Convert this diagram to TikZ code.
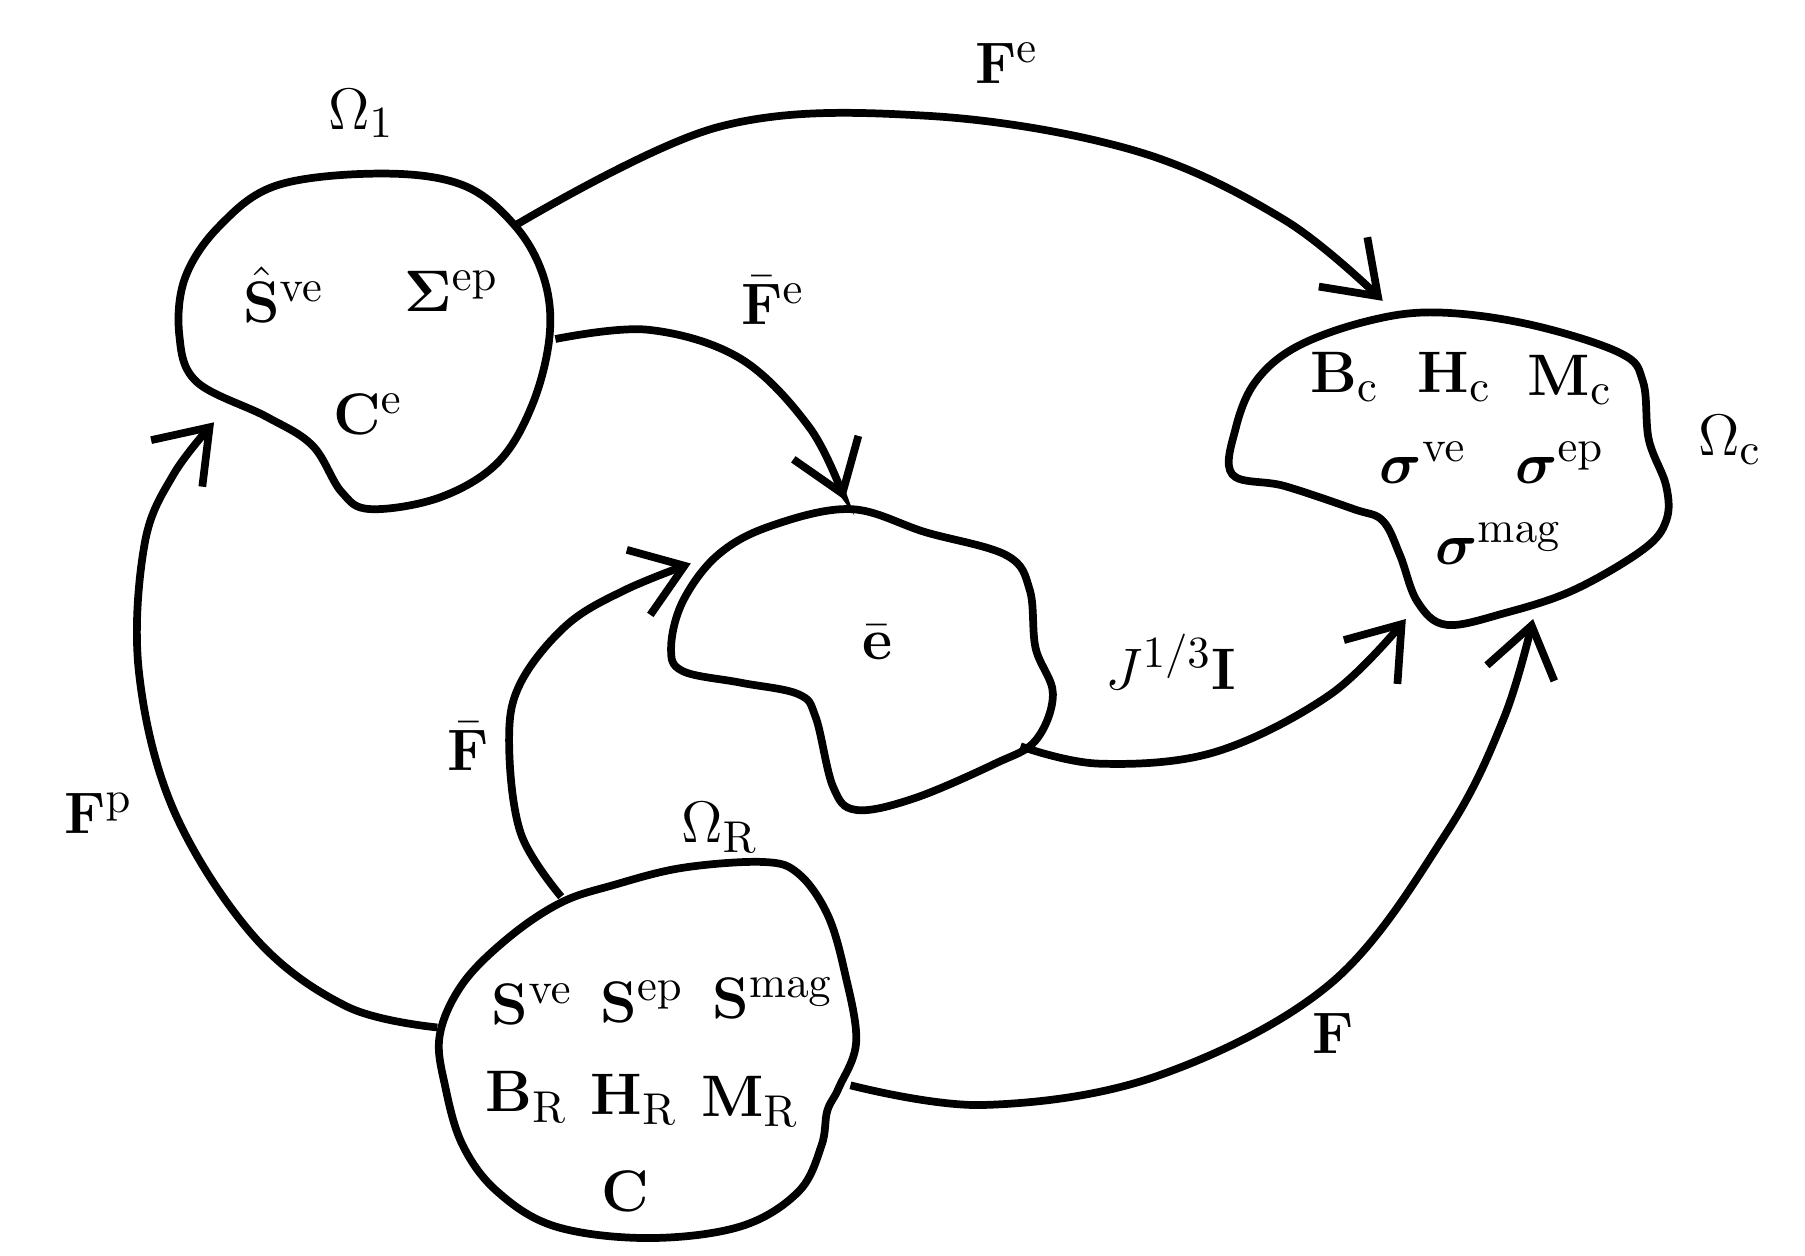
\documentclass[tikz,border=0pt]{standalone}
\usepackage{amsmath,bm}
\usetikzlibrary{arrows.meta}
\begin{document}
\begin{tikzpicture}[x=0.01cm,y=-0.01cm,
  blob/.style={line width=1.9pt,line join=round},
  arr/.style={line width=1.9pt,-{Straight Barb[length=12pt,width=17pt,line width=1.9pt]}},
  lab/.style={font=\fontsize{15}{18}\selectfont,inner sep=0pt}]
\useasboundingbox (0,0) rectangle (1560,1085);
% blobs
\draw[blob] plot[smooth cycle,tension=0.6] coordinates {(445,195)(400,160)(330,150)(240,160)(190,195)(160,240)(155,290)(170,330)(230,360)(270,385)(295,425)(320,440)(380,430)(430,400)(460,350)(475,290)(470,240)};
\draw[blob] plot[smooth cycle,tension=0.6] coordinates {(735,440)(800,460)(870,480)(890,510)(895,560)(910,600)(895,640)(860,660)(790,690)(740,700)(720,680)(705,620)(690,600)(640,590)(590,580)(580,560)(590,520)(620,480)(665,455)};
\draw[blob] plot[smooth cycle,tension=0.6] coordinates {(1065,410)(1068,370)(1085,330)(1120,300)(1180,278)(1240,270)(1320,280)(1400,305)(1420,330)(1425,380)(1440,420)(1440,450)(1420,475)(1360,510)(1300,530)(1250,540)(1225,520)(1210,480)(1195,450)(1170,440)(1110,420)};
\draw[blob] plot[smooth cycle,tension=0.6] coordinates {(485,780)(440,810)(400,850)(380,895)(385,940)(400,990)(430,1030)(480,1060)(560,1070)(640,1060)(690,1030)(710,990)(715,960)(725,940)(740,900)(730,840)(715,790)(690,755)(660,745)(590,750)(530,765)};
% arrows
\draw[arr] plot[smooth,tension=0.6] coordinates {(445,195)(620,110)(800,100)(980,130)(1110,190)(1195,260)};
\draw[arr] plot[smooth,tension=0.6] coordinates {(480,293)(560,285)(640,310)(700,370)(730,432)};
\draw[arr] plot[smooth,tension=0.6] coordinates {(485,775)(450,720)(440,640)(450,590)(490,540)(540,510)(597,487)};
\draw[arr] plot[smooth,tension=0.6] coordinates {(378,888)(300,870)(220,810)(150,700)(120,580)(125,470)(150,410)(185,365)};
\draw[arr] plot[smooth,tension=0.6] coordinates {(735,938)(850,955)(1000,930)(1150,850)(1250,720)(1300,620)(1325,535)};
\draw[arr] plot[smooth,tension=0.6] coordinates {(882,645)(950,660)(1050,650)(1150,600)(1215,535)};
% labels
\node[lab] (fe) at (870,55) {$\mathbf{F}^{\mathrm{e}}$};
\node[lab] (o1) at (312,98) {$\Omega_1$};
\node[lab] (sve1) at (245,255) {$\hat{\mathbf{S}}^{\mathrm{ve}}$};
\node[lab] (sig) at (390,252) {$\mathbf{\Sigma}^{\mathrm{ep}}$};
\node[lab] (ce) at (318,358) {$\mathbf{C}^{\mathrm{e}}$};
\node[lab] (fbe) at (668,260) {$\bar{\mathbf{F}}^{\mathrm{e}}$};
\node[lab] (bc) at (1162,326) {$\mathbf{B}_{\mathrm{c}}$};
\node[lab] (hc) at (1257,326) {$\mathbf{H}_{\mathrm{c}}$};
\node[lab] (mc) at (1357,328) {$\mathbf{M}_{\mathrm{c}}$};
\node[lab] (sve) at (1230,400) {$\bm{\sigma}^{\mathrm{ve}}$};
\node[lab] (sep) at (1348,400) {$\bm{\sigma}^{\mathrm{ep}}$};
\node[lab] (smag) at (1295,470) {$\bm{\sigma}^{\mathrm{mag}}$};
\node[lab] (oc) at (1495,380) {$\Omega_{\mathrm{c}}$};
\node[lab] (eb) at (758,555) {$\bar{\mathbf{e}}$};
\node[lab] (j) at (1012,572) {$J^{1/3}\mathbf{I}$};
\node[lab] (fb) at (405,645) {$\bar{\mathbf{F}}$};
\node[lab] (fp) at (85,703) {$\mathbf{F}^{\mathrm{p}}$};
\node[lab] (or) at (622,715) {$\Omega_{\mathrm{R}}$};
\node[lab] (s1) at (460,868) {$\mathbf{S}^{\mathrm{ve}}$};
\node[lab] (s2) at (555,866) {$\mathbf{S}^{\mathrm{ep}}$};
\node[lab] (s3) at (668,863) {$\mathbf{S}^{\mathrm{mag}}$};
\node[lab] (br) at (455,948) {$\mathbf{B}_{\mathrm{R}}$};
\node[lab] (hr) at (548,950) {$\mathbf{H}_{\mathrm{R}}$};
\node[lab] (mr) at (648,952) {$\mathbf{M}_{\mathrm{R}}$};
\node[lab] (c) at (540,1030) {$\mathbf{C}$};
\node[lab] (f) at (1152,893) {$\mathbf{F}$};
\end{tikzpicture}
\end{document}
